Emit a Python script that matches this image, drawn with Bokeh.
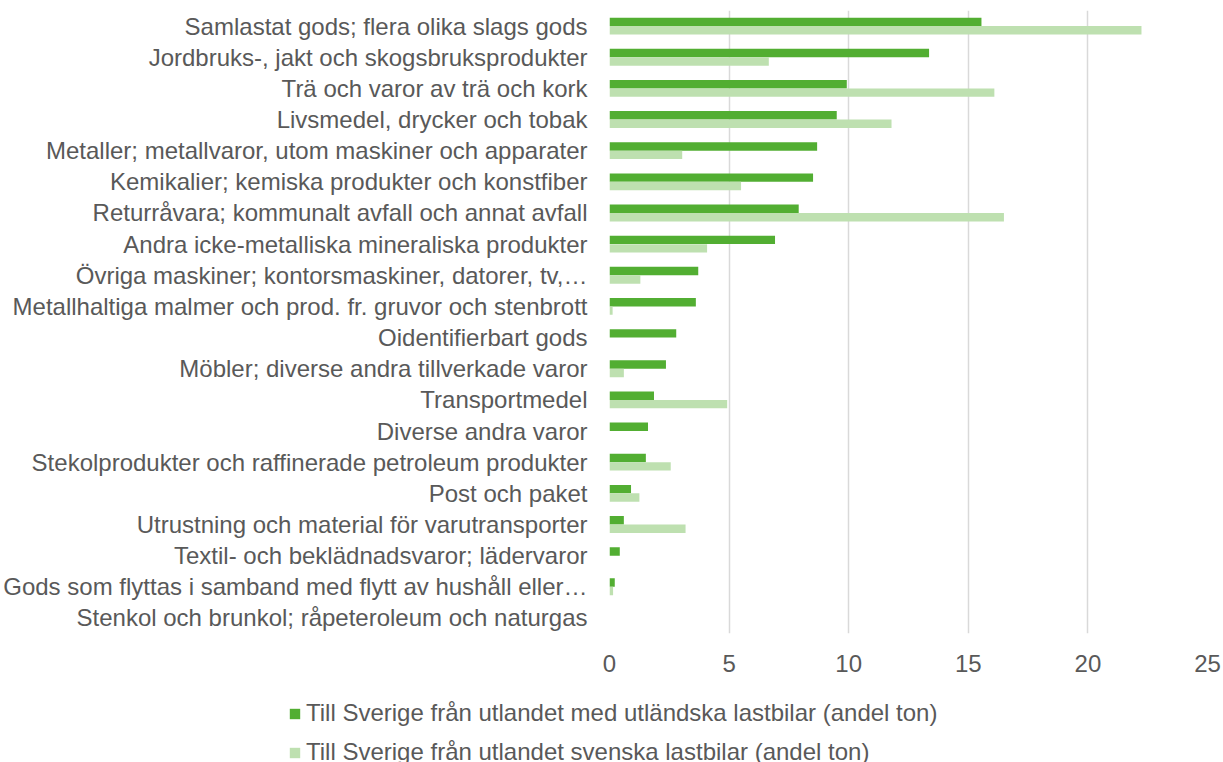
from bokeh.plotting import figure
from bokeh.models import FactorRange, Range1d, Legend, LegendItem, ColumnDataSource, FixedTicker
from bokeh.layouts import column
from bokeh.transform import dodge
from bokeh.embed import file_html
from bokeh.resources import INLINE

categories = [
    "Samlastat gods; flera olika slags gods",
    "Jordbruks-, jakt och skogsbruksprodukter",
    "Trä och varor av trä och kork",
    "Livsmedel, drycker och tobak",
    "Metaller; metallvaror, utom maskiner och apparater",
    "Kemikalier; kemiska produkter och konstfiber",
    "Returråvara; kommunalt avfall och annat avfall",
    "Andra icke-metalliska mineraliska produkter",
    "Övriga maskiner; kontorsmaskiner, datorer, tv,…",
    "Metallhaltiga malmer och prod. fr. gruvor och stenbrott",
    "Oidentifierbart gods",
    "Möbler; diverse andra tillverkade varor",
    "Transportmedel",
    "Diverse andra varor",
    "Stekolprodukter och raffinerade petroleum produkter",
    "Post och paket",
    "Utrustning och material för varutransporter",
    "Textil- och beklädnadsvaror; lädervaror",
    "Gods som flyttas i samband med flytt av hushåll eller…",
    "Stenkol och brunkol; råpeteroleum och naturgas",
]
foreign_trucks = [15.55, 13.36, 9.92, 9.50, 8.68, 8.51, 7.91, 6.92, 3.71, 3.61,
                  2.79, 2.36, 1.86, 1.61, 1.52, 0.90, 0.60, 0.43, 0.22, 0.0]
swedish_trucks = [22.24, 6.66, 16.09, 11.79, 3.04, 5.50, 16.49, 4.08, 1.29, 0.13,
                  0.0, 0.60, 4.92, 0.0, 2.56, 1.25, 3.18, 0.0, 0.15, 0.0]
series_names = [
    "Till Sverige från utlandet med utländska lastbilar (andel ton)",
    "Till Sverige från utlandet svenska lastbilar (andel ton)",
]
x_ticks = [0, 5, 10, 15, 20, 25]

DARK = "#52AE32"
LIGHT = "#BEE0B0"
TXT = "#595959"
FONT = "Liberation Sans"
FS = "24px"

src = ColumnDataSource(dict(cat=categories, a=foreign_trucks, b=swedish_trucks))

p = figure(
    width=1223, height=688,
    y_range=FactorRange(factors=list(reversed(categories))),
    x_range=Range1d(0, 25),
    output_backend="svg", toolbar_location=None,
    min_border_left=607, min_border_right=16, min_border_top=10, min_border_bottom=55,
)
p.outline_line_color = None

p.hbar(y=dodge("cat", 0.135, range=p.y_range), right="a", left=0, height=0.27,
       source=src, fill_color=DARK, line_color=None)
p.hbar(y=dodge("cat", -0.135, range=p.y_range), right="b", left=0, height=0.27,
       source=src, fill_color=LIGHT, line_color=None)

p.xaxis.ticker = FixedTicker(ticks=x_ticks)
p.xaxis.axis_line_color = None
p.xaxis.major_tick_line_color = None
p.xaxis.minor_tick_line_color = None
p.xaxis.major_label_text_font = FONT
p.xaxis.major_label_text_font_size = FS
p.xaxis.major_label_text_color = TXT
p.xaxis.major_label_standoff = 15

p.yaxis.axis_line_color = None
p.yaxis.major_tick_line_color = None
p.yaxis.minor_tick_line_color = None
p.yaxis.major_label_text_font = FONT
p.yaxis.major_label_text_font_size = FS
p.yaxis.major_label_text_color = TXT
p.yaxis.major_label_standoff = 16

p.ygrid.grid_line_color = None
p.xgrid.grid_line_color = "#D9D9D9"
p.xgrid.grid_line_width = 1.5

# Legend panel (separate figure so the legend is not clipped by the chart frame)
lg = figure(width=1223, height=74, x_range=Range1d(0, 1), y_range=Range1d(0, 1),
            output_backend="svg", toolbar_location=None,
            x_axis_location=None, y_axis_location=None,
            min_border_left=0, min_border_right=0, min_border_top=0, min_border_bottom=0)
lg.frame_align = False
lg.outline_line_color = None
lg.xgrid.visible = False
lg.ygrid.visible = False
d1 = lg.hbar(y=[0.5], right=[0], left=[0], height=0.1, fill_color=DARK, line_color=None)
d2 = lg.hbar(y=[0.5], right=[0], left=[0], height=0.1, fill_color=LIGHT, line_color=None)

legend = Legend(
    items=[LegendItem(label=series_names[0], renderers=[d1]),
           LegendItem(label=series_names[1], renderers=[d2])],
    location=(288, -4),
    orientation="vertical",
    glyph_width=13, glyph_height=13,
    label_text_font=FONT, label_text_font_size=FS, label_text_color=TXT,
    label_height=28, spacing=11, padding=0, margin=0, label_standoff=5,
    border_line_color=None, background_fill_alpha=0,
)
lg.add_layout(legend, "center")

layout = column(p, lg, spacing=0)

with open("out.html", "w") as f:
    f.write(file_html(layout, INLINE))
